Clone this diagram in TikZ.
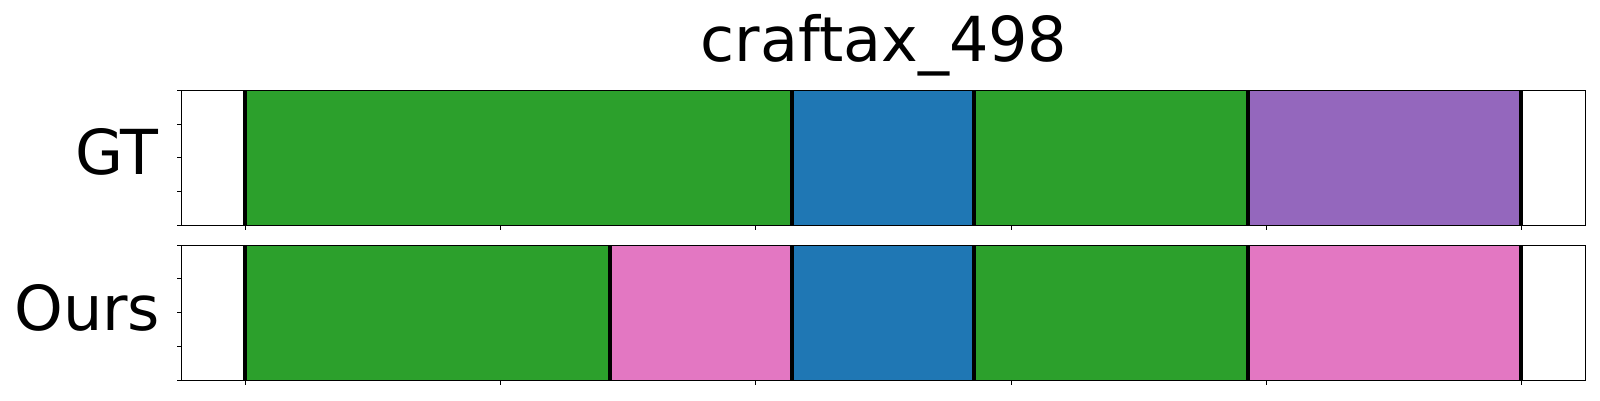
\documentclass[tikz,border=0pt]{standalone}
\usepackage{fontspec}
\setmainfont{DejaVu Sans}
\definecolor{tgreen}{HTML}{2CA02C}
\definecolor{tblue}{HTML}{1F77B4}
\definecolor{tpurple}{HTML}{9467BD}
\definecolor{tpink}{HTML}{E377C2}
\tikzset{
  seg/.style={draw=none},
  sep/.style={line width=4pt, black},
  frame/.style={line width=1pt, black},
  tick/.style={line width=0.8pt, black},
  lab/.style={inner sep=0pt, font=\fontsize{62}{74}\selectfont}
}
\begin{document}
\begin{tikzpicture}[x=1pt,y=-1pt]
\useasboundingbox (0,0) rectangle (1600,400);
\fill[white] (0,0) rectangle (1600,400);
% ---- GT axes (top 90.3 to 225)
\def\Lx{181.3}\def\Rx{1585.7}
\fill[tgreen]  (245.3,90.3) rectangle (792,225);
\fill[tblue]   (792,90.3) rectangle (974,225);
\fill[tgreen]  (974,90.3) rectangle (1248,225);
\fill[tpurple] (1248,90.3) rectangle (1521.3,225);
\foreach \x in {245.3,792,974,1248,1521.3} \draw[sep] (\x,90.3) -- (\x,225);
\draw[frame] (\Lx,90.3) rectangle (\Rx,225);
\foreach \y in {90.3,124,157.7,191.3,225} \draw[tick] (\Lx,\y) -- ++(-4.7,0);
\foreach \x in {245.3,500.5,755.7,1010.9,1266.1,1521.3} \draw[tick] (\x,225) -- ++(0,4.7);
% ---- Ours axes (top 245 to 380)
\fill[tgreen] (245.3,245) rectangle (610,380);
\fill[tpink]  (610,245) rectangle (792,380);
\fill[tblue]  (792,245) rectangle (974,380);
\fill[tgreen] (974,245) rectangle (1248,380);
\fill[tpink]  (1248,245) rectangle (1521.3,380);
\foreach \x in {245.3,610,792,974,1248,1521.3} \draw[sep] (\x,245) -- (\x,380);
\draw[frame] (\Lx,245) rectangle (\Rx,380);
\foreach \y in {245,278.75,312.5,346.25,380} \draw[tick] (\Lx,\y) -- ++(-4.7,0);
\foreach \x in {245.3,500.5,755.7,1010.9,1266.1,1521.3} \draw[tick] (\x,380) -- ++(0,4.7);
% ---- labels
\node[lab, anchor=base] (title) at (884,61.7) {craftax\_498};
\node[lab, anchor=base east] (gt) at (159,174) {GT};
\node[lab, anchor=base east] (ours) at (160.5,330) {Ours};
\end{tikzpicture}
\end{document}
